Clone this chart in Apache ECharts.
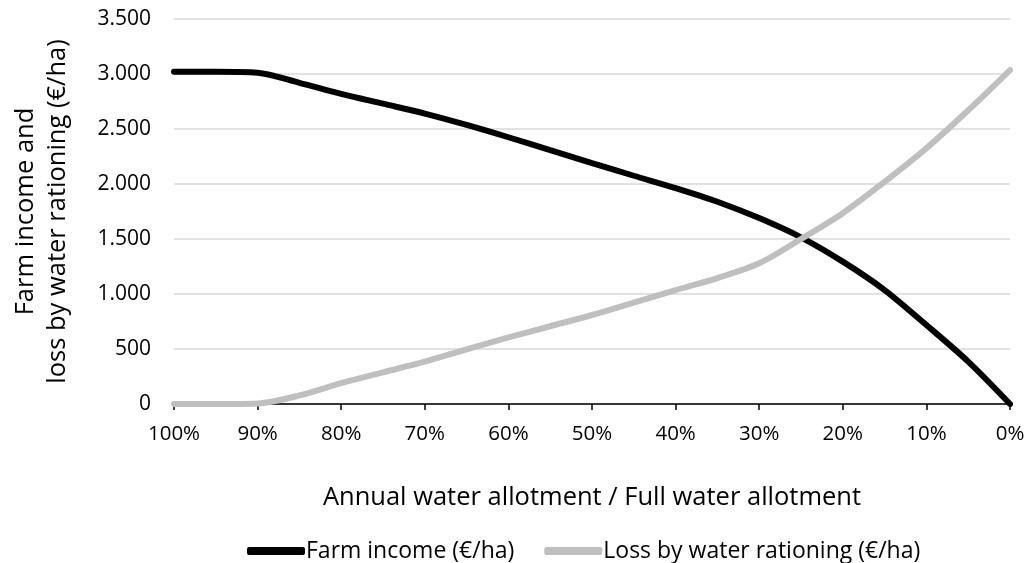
<!DOCTYPE html>
<html>
<head>
<meta charset="utf-8">
<script src="https://cdn.jsdelivr.net/npm/echarts@6/dist/echarts.min.js"></script>
<style>html,body{margin:0;padding:0;background:#fff}#c{width:1028px;height:563px}</style>
</head>
<body>
<div id="c"></div>
<script>
const allotment = [100, 95, 90, 85, 80, 75, 70, 65, 60, 55, 50, 45, 40, 35, 30, 25, 20, 15, 10, 5, 0];
const farmIncome = [3020, 3020, 3012, 2920, 2820, 2730, 2640, 2537, 2425, 2307, 2190, 2075, 1963, 1839, 1690, 1515, 1294, 1036, 718, 385, 0];
const lossByRationing = [0, 0, 5, 78, 190, 288, 385, 497, 605, 707, 809, 922, 1036, 1145, 1280, 1500, 1735, 2020, 2325, 2670, 3036];
const xTicks = [0, 10, 20, 30, 40, 50, 60, 70, 80, 90, 100];
const yTicks = [0, 500, 1000, 1500, 2000, 2500, 3000, 3500];

const fontFamily = '"Open Sans", sans-serif';
const fmtY = v => String(v).replace(/\B(?=(\d{3})+(?!\d))/g, '.');

const chart = echarts.init(document.getElementById('c'));
chart.setOption({
  animation: false,
  textStyle: { fontFamily },
  grid: { left: 174, right: 18, top: 19, bottom: 159 },
  legend: {
    top: 533,
    left: 242,
    itemWidth: 58,
    itemHeight: 8,
    itemGap: 30,
    icon: 'roundRect',
    textStyle: { fontSize: 23, lineHeight: 26, color: '#000', fontFamily, padding: [0, 0, 0, -4] },
    data: ['Farm income (€/ha)', 'Loss by water rationing (€/ha)']
  },
  xAxis: {
    type: 'value',
    inverse: true,
    min: 0,
    max: 100,
    interval: 10,
    name: 'Annual water allotment / Full water allotment',
    nameLocation: 'middle',
    nameGap: 81,
    nameTextStyle: { fontSize: 25.5, color: '#000', fontFamily },
    axisLine: { show: true, lineStyle: { color: '#000', width: 1.5 } },
    axisTick: { show: true, length: 6, lineStyle: { color: '#000', width: 1.5 } },
    axisLabel: { fontSize: 20.5, color: '#000', margin: 20, formatter: v => xTicks.includes(v) ? v + '%' : '' },
    splitLine: { show: false }
  },
  yAxis: {
    type: 'value',
    min: 0,
    max: 3500,
    interval: 500,
    name: 'Farm income and\nloss by water rationing (€/ha)',
    nameLocation: 'middle',
    nameGap: 100,
    nameRotate: 90,
    nameTextStyle: { fontSize: 25.5, color: '#000', fontFamily, lineHeight: 32 },
    axisLine: { show: false },
    axisTick: { show: false },
    axisLabel: { fontSize: 21, color: '#000', margin: 23, formatter: v => yTicks.includes(v) ? fmtY(v) : '' },
    splitLine: { show: true, lineStyle: { color: '#d9d9d9', width: 1.5 } }
  },
  series: [
    {
      name: 'Farm income (€/ha)',
      type: 'line',
      data: allotment.map((x, i) => [x, farmIncome[i]]),
      smooth: 0.3,
      symbol: 'none',
      color: '#000000',
      lineStyle: { color: '#000000', width: 6, cap: 'round' },
      z: 3
    },
    {
      name: 'Loss by water rationing (€/ha)',
      type: 'line',
      data: allotment.map((x, i) => [x, lossByRationing[i]]),
      smooth: 0.3,
      symbol: 'none',
      color: '#bfbfbf',
      lineStyle: { color: '#bfbfbf', width: 6, cap: 'round' },
      z: 4
    }
  ]
});
</script>
</body>
</html>
